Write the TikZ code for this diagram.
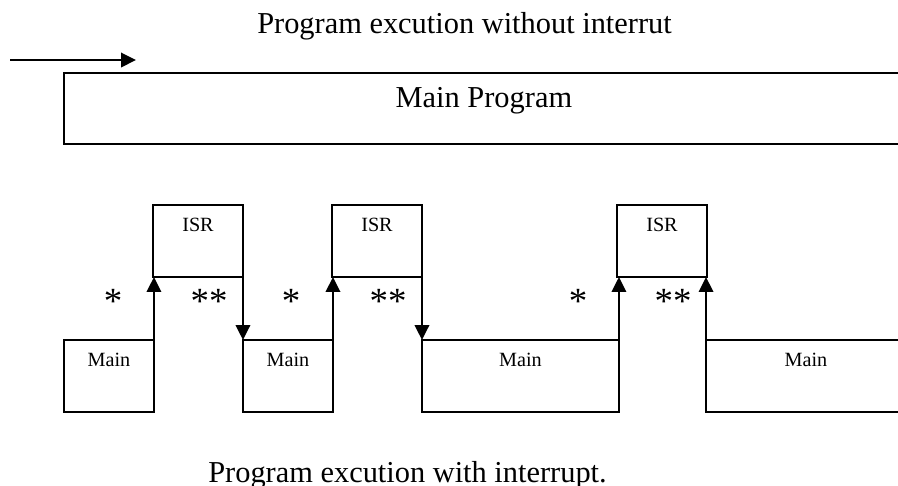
\documentclass[tikz,border=0pt]{standalone}
\usepackage{fontspec}
\setmainfont{Liberation Serif}
\usetikzlibrary{arrows.meta, calc}

\begin{document}
\begin{tikzpicture}[x=0.02cm, y=-0.02cm, line width=1.1pt,
    box/.style={draw, rectangle, anchor=north west, outer sep=0pt, inner ysep=0pt, minimum width=1.8cm, minimum height=1.44cm, text height=0.52cm, text depth=0.92cm, font=\fontsize{11.5}{13}\selectfont},
    bigbox/.style={box, minimum width=16.8cm, minimum height=1.42cm, text height=0.68cm, text depth=0.74cm, font=\fontsize{17.3}{20}\selectfont},
    caption/.style={anchor=base, inner sep=0pt, font=\fontsize{17.3}{20}\selectfont},
    stars/.style={caption, font=\fontsize{21}{24}\selectfont},
    arrow/.style={-{Triangle[length=0.3cm, width=0.29cm]}}
    ]
    \useasboundingbox (0,0) rectangle (898,485);
    % without interrupt
    \node[caption] (top) at (464.5,33) {Program excution without interrut};
    \coordinate (runstart) at (10,60);
    \coordinate (runend) at (136,60);
    \draw[arrow] (runstart) -- (runend);
    \node[bigbox] (mainprog) at (64,73) {Main Program};
    % with interrupt
    \node[box] (isr1) at (153,205) {ISR};
    \node[box] (isr2) at (332,205) {ISR};
    \node[box] (isr3) at (617,205) {ISR};
    \node[box] (main1) at (64,340) {Main};
    \node[box] (main2) at (243,340) {Main};
    \node[box, minimum width=3.94cm] (main3) at (422,340) {Main};
    \node[box, minimum width=4cm] (main4) at (706,340) {Main};
    \node[stars] (s1) at (113,313) {*};
    \node[stars] (ss1) at (209,313) {**};
    \node[stars] (s2) at (291,313) {*};
    \node[stars] (ss2) at (388,313) {**};
    \node[stars] (s3) at (578,313) {*};
    \node[stars] (ss3) at (673,313) {**};
    \draw[arrow] (main1.north east) -- (main1.north east |- isr1.south);
    \draw[arrow] (isr1.south east) -- (isr1.south east |- main2.north);
    \draw[arrow] (main2.north east) -- (main2.north east |- isr2.south);
    \draw[arrow] (isr2.south east) -- (isr2.south east |- main3.north);
    \draw[arrow] (main3.north east) -- (main3.north east |- isr3.south);
    \draw[arrow] (main4.north west) -- (main4.north west |- isr3.south);
    \node[caption] (bottom) at (407.5,482) {Program excution with interrupt.};
\end{tikzpicture}
\end{document}
